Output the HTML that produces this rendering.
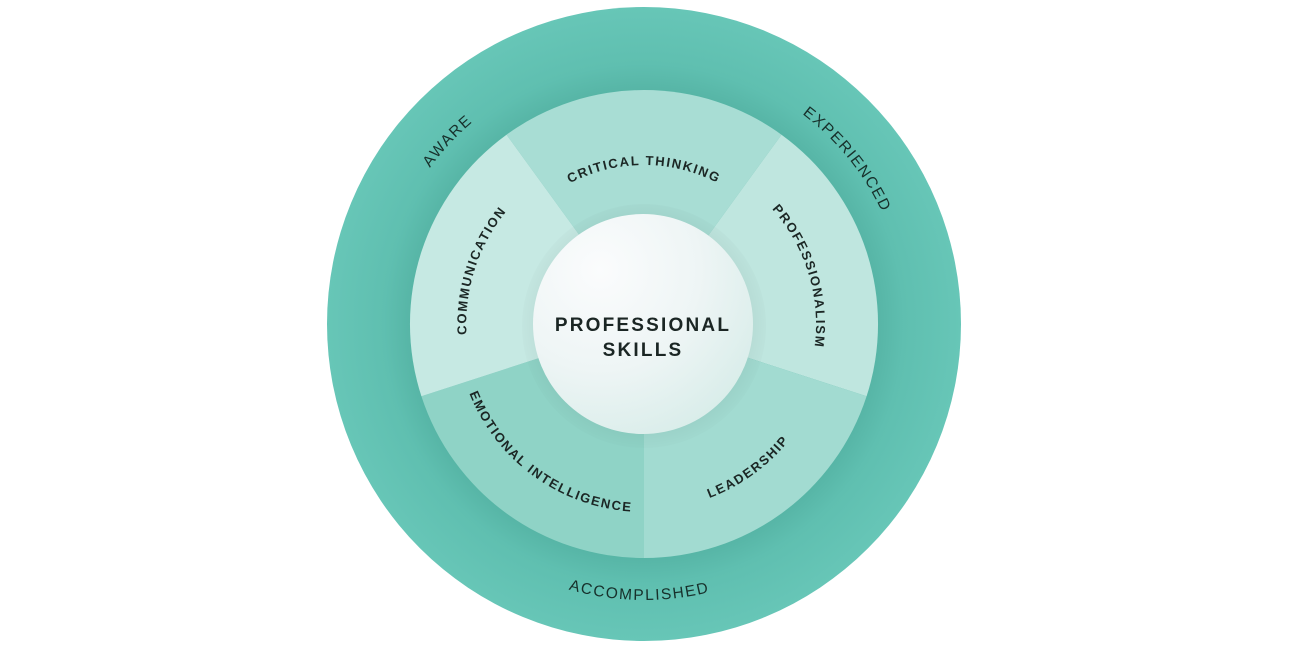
<!DOCTYPE html>
<html><head><meta charset="utf-8"><style>
html,body{margin:0;padding:0;background:#fff;}
svg{display:block;}
text{font-family:"Liberation Sans",sans-serif;fill:#1b2624;}
.seg{font-size:13px;font-weight:bold;letter-spacing:1.6px;}
.out{font-size:15.5px;letter-spacing:1.6px;fill:#17302b;}
</style></head><body>
<svg width="1293" height="649" viewBox="0 0 1293 649" xmlns="http://www.w3.org/2000/svg">
<defs>
<radialGradient id="ring" cx="644" cy="324" r="317" gradientUnits="userSpaceOnUse">
<stop offset="0.72" stop-color="#55b3a4"/>
<stop offset="0.82" stop-color="#5fbfb0"/>
<stop offset="1" stop-color="#67c6b7"/>
</radialGradient>
<radialGradient id="ctr" cx="600" cy="270" r="200" gradientUnits="userSpaceOnUse">
<stop offset="0" stop-color="#fbfcfd"/>
<stop offset="0.5" stop-color="#eef5f5"/>
<stop offset="1" stop-color="#d4ebe7"/>
</radialGradient>
<radialGradient id="sh" cx="644" cy="324" r="130" gradientUnits="userSpaceOnUse">
<stop offset="0.8" stop-color="#000" stop-opacity="0.05"/>
<stop offset="1" stop-color="#000" stop-opacity="0"/>
</radialGradient>
<path id="pCrit" d="M506.3,244.5 A159,159 0 0 1 781.7,244.5"/>
<path id="pComm" d="M511.7,442.7 A178,178 0 0 1 606.9,149.9"/>
<path id="pProf" d="M682.7,156.4 A172,172 0 0 1 769.8,441.3"/>
<path id="pLead" d="M568.4,493.9 A186,186 0 0 0 829,304.6"/>
<path id="pEmo" d="M457,304.4 A188,188 0 0 0 720.5,495.7"/>
<path id="pAware" d="M390.6,401.5 A265,265 0 0 1 703.6,65.8"/>
<path id="pExp" d="M602.9,64.2 A263,263 0 0 1 889.5,418.3"/>
<path id="pAcc" d="M402.6,457.8 A276,276 0 0 0 880.6,466.1"/>
</defs>
<circle cx="644" cy="324" r="317" fill="url(#ring)"/>
<path d="M644,324 L506.5,134.7 A234,234 0 0 1 781.5,134.7 Z" fill="#a8ddd4"/>
<path d="M644,324 L781.5,134.7 A234,234 0 0 1 866.6,396.3 Z" fill="#bfe6df"/>
<path d="M644,324 L866.6,396.3 A234,234 0 0 1 644,558 Z" fill="#a2dbd1"/>
<path d="M644,324 L644,558 A234,234 0 0 1 421.4,396.3 Z" fill="#8fd3c6"/>
<path d="M644,324 L421.4,396.3 A234,234 0 0 1 506.5,134.7 Z" fill="#c6e9e3"/>
<circle cx="644" cy="326" r="122" fill="url(#sh)"/>
<circle cx="643" cy="324" r="110" fill="url(#ctr)"/>
<text x="643" y="331" text-anchor="middle" style="font-size:19px;font-weight:bold;letter-spacing:2.2px;">PROFESSIONAL</text>
<text x="643" y="356" text-anchor="middle" style="font-size:19px;font-weight:bold;letter-spacing:2.2px;">SKILLS</text>
<text class="seg"><textPath href="#pCrit" startOffset="50%" text-anchor="middle">CRITICAL THINKING</textPath></text>
<text class="seg"><textPath href="#pComm" startOffset="50%" text-anchor="middle">COMMUNICATION</textPath></text>
<text class="seg"><textPath href="#pProf" startOffset="50%" text-anchor="middle">PROFESSIONALISM</textPath></text>
<text class="seg"><textPath href="#pLead" startOffset="50%" text-anchor="middle">LEADERSHIP</textPath></text>
<text class="seg"><textPath href="#pEmo" startOffset="50%" text-anchor="middle">EMOTIONAL INTELLIGENCE</textPath></text>
<text class="out"><textPath href="#pAware" startOffset="50%" text-anchor="middle">AWARE</textPath></text>
<text class="out"><textPath href="#pExp" startOffset="50%" text-anchor="middle">EXPERIENCED</textPath></text>
<text class="out"><textPath href="#pAcc" startOffset="50%" text-anchor="middle">ACCOMPLISHED</textPath></text>
</svg>
</body></html>
